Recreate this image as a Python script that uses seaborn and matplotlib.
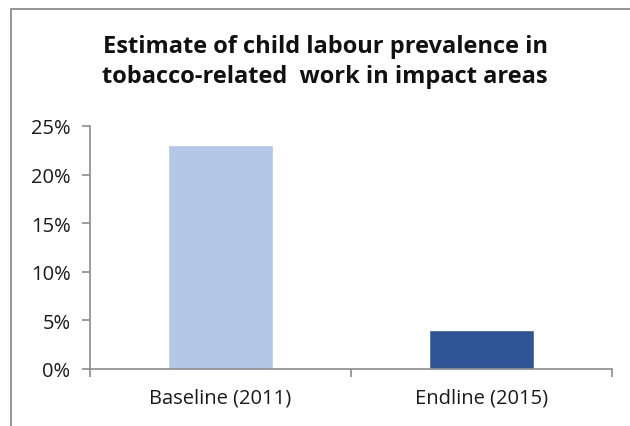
import matplotlib
matplotlib.use("Agg")
import matplotlib.pyplot as plt
from matplotlib.patches import Rectangle
from matplotlib.ticker import FuncFormatter, FixedLocator
import seaborn as sns
import pandas as pd

categories = ["Baseline (2011)", "Endline (2015)"]
prevalence = [0.23, 0.04]
bar_colors = ["#B4C7E7", "#2F5597"]
title = "Estimate of child labour prevalence in\ntobacco-related  work in impact areas"

sns.set_theme(style="white")
plt.rcParams["font.family"] = ["Open Sans", "DejaVu Sans"]

df = pd.DataFrame({"period": categories, "value": prevalence})

fig = plt.figure(figsize=(6.3, 4.27), dpi=100)
ax = fig.add_axes([90 / 630, 1 - 370 / 427, (612 - 90) / 630, (370 - 127) / 427])

sns.barplot(data=df, x="period", y="value", hue="period", palette=bar_colors,
            width=0.4, legend=False, ax=ax, saturation=1)

ax.set_xlim(-0.5, 1.5)
ax.set_ylim(0, 0.25)
ax.set_yticks([0, 0.05, 0.10, 0.15, 0.20, 0.25])
ax.yaxis.set_major_formatter(FuncFormatter(lambda v, _: f"{v * 100:.0f}%"))
ax.xaxis.set_major_locator(FixedLocator([0, 1]))
ax.xaxis.set_minor_locator(FixedLocator([-0.5, 0.5, 1.5]))
ax.set_xlabel("")
ax.set_ylabel("")

spine_color = "#8C8C8C"
for side in ["top", "right"]:
    ax.spines[side].set_visible(False)
for side in ["left", "bottom"]:
    ax.spines[side].set_color(spine_color)
    ax.spines[side].set_linewidth(1.2)

label_size = 14.5
ax.tick_params(axis="y", which="major", direction="out", length=6, width=1.2,
               color=spine_color, left=True, labelsize=label_size, pad=8,
               labelcolor="#1a1a1a")
ax.tick_params(axis="x", which="major", length=0, labelsize=label_size, pad=13,
               labelcolor="#1a1a1a")
ax.tick_params(axis="x", which="minor", direction="out", length=6, width=1.2,
               color=spine_color, bottom=True)

fig.text(325 / 630, 1 - 62 / 427, title, ha="center", va="center",
         fontsize=17, fontweight="bold", color="#111111", linespacing=1.35)

# outer chart frame
fig.patches.append(Rectangle((11 / 630, -0.05), 1.1, 1 - 10 / 427 + 0.05,
                             transform=fig.transFigure, fill=False,
                             edgecolor="#8C8C8C", linewidth=1.3))

fig.savefig("out.png", dpi=100)
